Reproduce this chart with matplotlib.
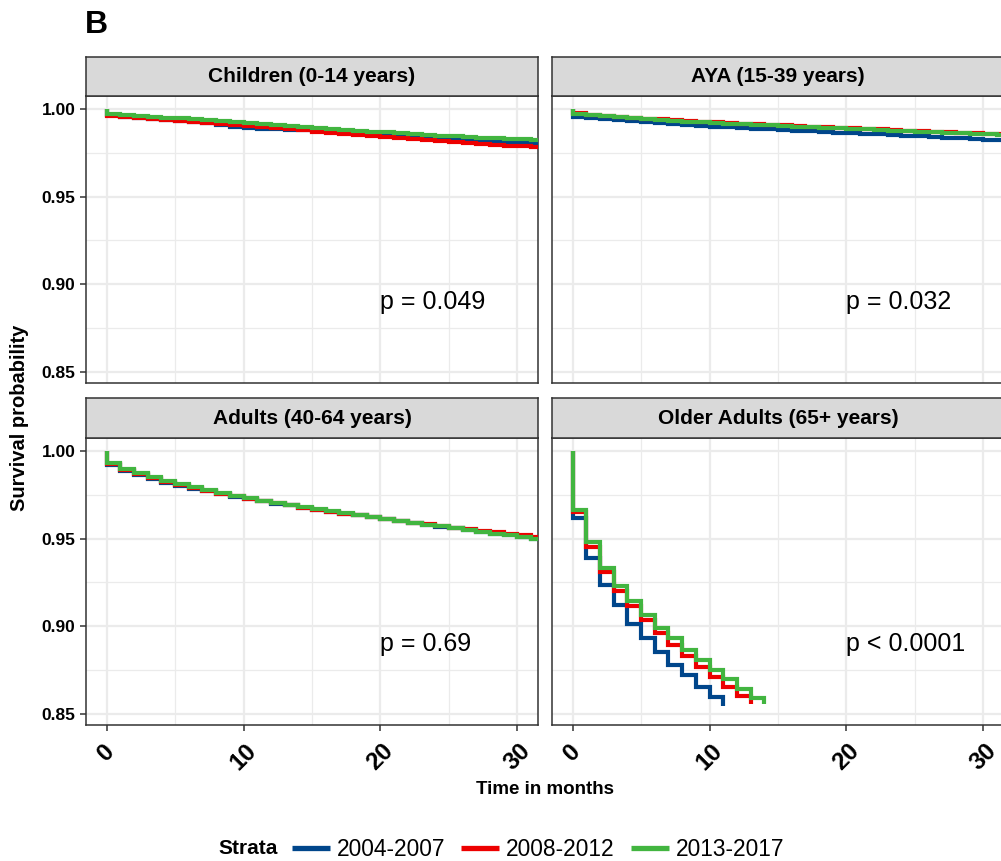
import matplotlib
matplotlib.use("Agg")
import matplotlib.pyplot as plt
from matplotlib.lines import Line2D
import numpy as np

plt.rcParams['font.family'] = ['Liberation Sans', 'DejaVu Sans']

# ---------------- data ----------------
strata = ["2004-2007", "2008-2012", "2013-2017"]
colors = ["#00468B", "#ED0000", "#42B540"]
panel_titles = ["Children (0-14 years)", "AYA (15-39 years)",
                "Adults (40-64 years)", "Older Adults (65+ years)"]
pvalues = ["p = 0.049", "p = 0.032", "p = 0.69", "p < 0.0001"]
x_ticks = [0, 10, 20, 30]
y_ticks = [0.85, 0.90, 0.95, 1.00]
y_ticklabels = ["0.85", "0.90", "0.95", "1.00"]

# survival estimates at monthly times 0, 1, 2, ...
children_2004 = [0.9963, 0.9955, 0.9949, 0.9943, 0.9937, 0.9931, 0.9925, 0.9918, 0.9908, 0.9898,
                 0.9890, 0.9887, 0.9885, 0.9882, 0.9878, 0.9873, 0.9868, 0.9863, 0.9858, 0.9853,
                 0.9849, 0.9845, 0.9841, 0.9836, 0.9831, 0.9827, 0.9822, 0.9818, 0.9814, 0.9810,
                 0.9807, 0.9804, 0.9801]
children_2008 = [0.9962, 0.9955, 0.9949, 0.9943, 0.9937, 0.9931, 0.9925, 0.9919, 0.9913, 0.9907,
                 0.9901, 0.9896, 0.9891, 0.9886, 0.9879, 0.9870, 0.9862, 0.9855, 0.9849, 0.9843,
                 0.9838, 0.9833, 0.9828, 0.9823, 0.9818, 0.9813, 0.9806, 0.9800, 0.9795, 0.9790,
                 0.9786, 0.9782, 0.9779]
children_2013 = [0.9972, 0.9966, 0.9961, 0.9956, 0.9951, 0.9946, 0.9941, 0.9936, 0.9931, 0.9926,
                 0.9920, 0.9915, 0.9910, 0.9905, 0.9900, 0.9893, 0.9887, 0.9881, 0.9876, 0.9871,
                 0.9867, 0.9862, 0.9857, 0.9852, 0.9847, 0.9843, 0.9840, 0.9837, 0.9834, 0.9831,
                 0.9828, 0.9825, 0.9822]

aya_2004 = [0.9957, 0.9949, 0.9942, 0.9936, 0.9930, 0.9923, 0.9918, 0.9913, 0.9908, 0.9904,
            0.9900, 0.9896, 0.9892, 0.9888, 0.9884, 0.9880, 0.9876, 0.9872, 0.9869, 0.9865,
            0.9862, 0.9858, 0.9855, 0.9851, 0.9848, 0.9844, 0.9840, 0.9837, 0.9833, 0.9829,
            0.9825, 0.9822, 0.9819]
aya_2008 = [0.9975, 0.9968, 0.9962, 0.9956, 0.9950, 0.9945, 0.9940, 0.9935, 0.9931, 0.9927,
            0.9923, 0.9919, 0.9915, 0.9912, 0.9909, 0.9906, 0.9902, 0.9899, 0.9896, 0.9893,
            0.9890, 0.9887, 0.9883, 0.9880, 0.9877, 0.9873, 0.9870, 0.9867, 0.9864, 0.9861,
            0.9858, 0.9855, 0.9852]
aya_2013 = [0.9972, 0.9965, 0.9959, 0.9953, 0.9947, 0.9942, 0.9937, 0.9932, 0.9928, 0.9924,
            0.9920, 0.9916, 0.9912, 0.9909, 0.9906, 0.9903, 0.9899, 0.9896, 0.9893, 0.9890,
            0.9887, 0.9884, 0.9880, 0.9877, 0.9874, 0.9870, 0.9867, 0.9864, 0.9861, 0.9858,
            0.9855, 0.9852, 0.9849]

adults_2004 = [0.9921, 0.9885, 0.9862, 0.9840, 0.9819, 0.9801, 0.9785, 0.9769, 0.9755, 0.9740,
               0.9726, 0.9713, 0.9700, 0.9689, 0.9677, 0.9666, 0.9654, 0.9643, 0.9632, 0.9621,
               0.9610, 0.9599, 0.9589, 0.9579, 0.9569, 0.9559, 0.9549, 0.9539, 0.9529, 0.9519,
               0.9510, 0.9500, 0.9491]
adults_2008 = [0.9924, 0.9889, 0.9866, 0.9844, 0.9823, 0.9805, 0.9788, 0.9771, 0.9757, 0.9741,
               0.9727, 0.9714, 0.9701, 0.9689, 0.9677, 0.9665, 0.9653, 0.9642, 0.9632, 0.9621,
               0.9611, 0.9601, 0.9591, 0.9582, 0.9573, 0.9563, 0.9554, 0.9545, 0.9536, 0.9527,
               0.9518, 0.9509, 0.9500]
adults_2013 = [0.9933, 0.9898, 0.9875, 0.9852, 0.9831, 0.9812, 0.9794, 0.9777, 0.9763, 0.9746,
               0.9731, 0.9717, 0.9704, 0.9692, 0.9680, 0.9668, 0.9656, 0.9645, 0.9634, 0.9623,
               0.9612, 0.9601, 0.9590, 0.9580, 0.9570, 0.9559, 0.9549, 0.9539, 0.9529, 0.9519,
               0.9509, 0.9499, 0.9489]

older_2004 = [0.9617, 0.9391, 0.9238, 0.9123, 0.9011, 0.8931, 0.8854, 0.8778, 0.8720, 0.8653,
              0.8596, 0.8548]
older_2008 = [0.9650, 0.9454, 0.9310, 0.9203, 0.9113, 0.9036, 0.8960, 0.8893, 0.8831, 0.8768,
              0.8711, 0.8653, 0.8605, 0.8557]
older_2013 = [0.9663, 0.9480, 0.9333, 0.9228, 0.9146, 0.9065, 0.8992, 0.8931, 0.8864, 0.8807,
              0.8753, 0.8701, 0.8644, 0.8590, 0.8557]

panel_series = [
    [children_2004, children_2008, children_2013],
    [aya_2004, aya_2008, aya_2013],
    [adults_2004, adults_2008, adults_2013],
    [older_2004, older_2008, older_2013],
]

# ---------------- layout ----------------
W, H = 1001, 861
fig = plt.figure(figsize=(W / 100, H / 100), dpi=100)


def rect(x0, y0, x1, y1):
    return [x0 / W, 1 - y1 / H, (x1 - x0) / W, (y1 - y0) / H]


panel_px = [(86, 96, 538, 383), (552, 96, 1004, 383),
            (86, 438, 538, 725), (552, 438, 1004, 725)]
strip_px = [(86, 57, 538, 96), (552, 57, 1004, 96),
            (86, 398, 538, 438), (552, 398, 1004, 438)]

border = "#333333"
gridc = "#EBEBEB"

for i in range(4):
    ax = fig.add_axes(rect(*panel_px[i]))
    for s, col in zip(panel_series[i], colors):
        t = [0] + list(range(len(s)))
        v = [1.0] + list(s)
        ax.step(t, v, where='post', color=col, lw=3.0, solid_joinstyle='miter',
                solid_capstyle='butt', zorder=3)
    ax.set_xlim(-1.5, 31.5)
    ax.set_ylim(0.8437, 1.0074)
    ax.set_xticks(x_ticks)
    ax.set_xticks([5, 15, 25], minor=True)
    ax.set_yticks(y_ticks)
    ax.set_yticks([0.875, 0.925, 0.975], minor=True)
    ax.grid(True, which='major', color=gridc, lw=1.6, zorder=0)
    ax.grid(True, which='minor', color=gridc, lw=0.9, zorder=0)
    ax.set_axisbelow(True)
    for sp in ax.spines.values():
        sp.set_color(border)
        sp.set_linewidth(1.1)
    ax.tick_params(which='minor', length=0)
    ax.tick_params(which='major', length=4.5, width=1.1, color=border)
    if i in (0, 2):
        ax.set_yticklabels(y_ticklabels, fontsize=12.5, fontweight='bold')
        ax.tick_params(axis='y', pad=3)
    else:
        ax.tick_params(axis='y', length=0, labelleft=False)
    if i in (2, 3):
        ax.set_xticklabels([str(x) for x in x_ticks], fontsize=17.5, fontweight='bold',
                           rotation=45, ha='center', va='top')
        ax.tick_params(axis='x', pad=6)
    else:
        ax.tick_params(axis='x', length=0, labelbottom=False)
    ax.text(20, 0.89, pvalues[i], fontsize=18, ha='left', va='center', zorder=4)

    sax = fig.add_axes(rect(*strip_px[i]))
    sax.set_facecolor("#D9D9D9")
    sax.set_xticks([])
    sax.set_yticks([])
    for sp in sax.spines.values():
        sp.set_color(border)
        sp.set_linewidth(1.1)
    sax.text(0.5, 0.5, panel_titles[i], transform=sax.transAxes, ha='center',
             va='center', fontsize=15, fontweight='bold')

# title and axis labels
fig.text(85 / W, 1 - 25 / H, "B", fontsize=23, fontweight='bold', ha='left', va='center')
fig.text(545 / W, 1 - 790 / H, "Time in months", fontsize=13.5, fontweight='bold',
         ha='center', va='center')
fig.text(20 / W, 1 - 418 / H, "Survival probability", fontsize=14.5, fontweight='bold',
         ha='center', va='center', rotation=90)

# legend
fig.text(218 / W, 1 - 849 / H, "Strata", fontsize=15, fontweight='bold', ha='left',
         va='center')
handles = [Line2D([0], [0], color=c, lw=3.8, solid_capstyle='butt') for c in colors]
fig.legend(handles, strata, loc='center left', bbox_to_anchor=(292 / W, 1 - 849 / H),
           ncol=3, frameon=False, fontsize=16.4, handlelength=1.67, handletextpad=0.3,
           columnspacing=0.7, borderpad=0, borderaxespad=0)

fig.savefig("out.png", dpi=100)
